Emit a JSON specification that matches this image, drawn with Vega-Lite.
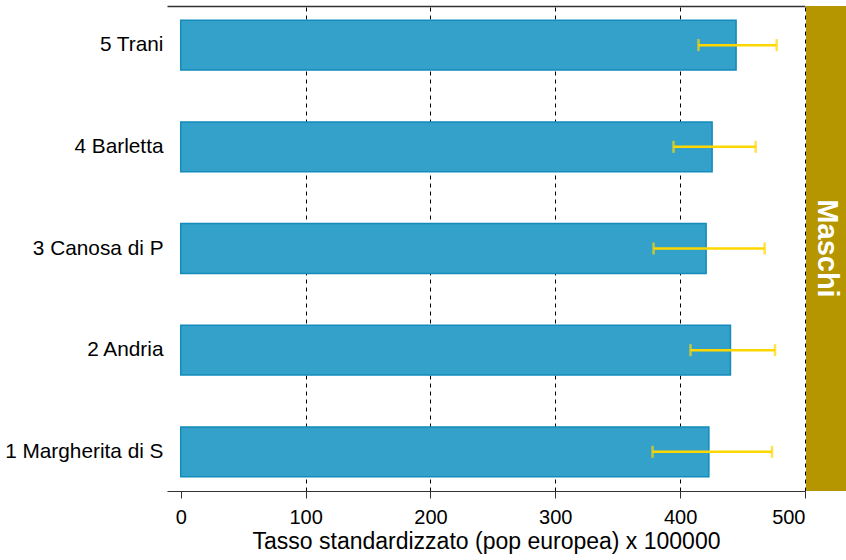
{
  "$schema": "https://vega.github.io/schema/vega-lite/v6.json",
  "padding": {"left": 4, "top": 6, "right": 0, "bottom": 5},
  "background": "white",
  "config": {
    "font": "Liberation Sans",
    "view": {"stroke": null},
    "concat": {"spacing": 0}
  },
  "datasets": {
    "rates": [
      {"comune": "5 Trani", "tasso": 444.8, "lo": 414.7, "hi": 477.3},
      {"comune": "4 Barletta", "tasso": 425.6, "lo": 394.7, "hi": 460.5},
      {"comune": "3 Canosa di P", "tasso": 420.8, "lo": 378.7, "hi": 467.7},
      {"comune": "2 Andria", "tasso": 440.3, "lo": 408.3, "hi": 476.0},
      {"comune": "1 Margherita di S", "tasso": 423.0, "lo": 377.9, "hi": 473.6}
    ],
    "strip": [{"label": "Maschi"}]
  },
  "hconcat": [
    {
      "width": 638,
      "height": 485,
      "data": {"name": "rates"},
      "encoding": {
        "y": {
          "field": "comune",
          "type": "nominal",
          "sort": null,
          "scale": {"paddingInner": 0.51, "paddingOuter": 0.14},
          "axis": {
            "title": null,
            "domain": false,
            "ticks": false,
            "labelFontSize": 20.8,
            "labelColor": "black",
            "labelPadding": 4
          }
        }
      },
      "layer": [
        {
          "mark": {"type": "bar", "fill": "#33A1C9", "stroke": "#138BBB", "strokeWidth": 1.5},
          "encoding": {
            "x": {
              "field": "tasso",
              "type": "quantitative",
              "scale": {"domain": [-11, 500], "nice": false, "zero": false},
              "axis": {
                "orient": "bottom",
                "values": [0, 100, 200, 300, 400, 500],
                "title": "Tasso standardizzato (pop europea) x 100000",
                "titleFontSize": 23,
                "titleFontWeight": "normal",
                "titleColor": "black",
                "titlePadding": 3,
                "labelFontSize": 20,
                "labelColor": "black",
                "labelPadding": 9,
                "domainColor": "#333333",
                "domainWidth": 1.2,
                "tickColor": "#333333",
                "tickSize": 7,
                "grid": true,
                "gridColor": "black",
                "gridDash": [4, 4],
                "gridWidth": 1,
                "gridOpacity": {"condition": {"test": "datum.value === 0", "value": 0}, "value": 1}
              }
            }
          }
        },
        {
          "mark": {"type": "rule", "color": "#FFD700", "strokeWidth": 2.5},
          "encoding": {
            "x": {"field": "lo", "type": "quantitative", "axis": null},
            "x2": {"field": "hi"}
          }
        },
        {
          "mark": {"type": "tick", "color": "#FFD700", "thickness": 2.5, "size": 12},
          "encoding": {
            "x": {
              "field": "lo",
              "type": "quantitative",
              "axis": {
                "orient": "top",
                "labels": false,
                "ticks": false,
                "grid": false,
                "title": null,
                "domainColor": "#333333",
                "domainWidth": 1.5
              }
            }
          }
        },
        {
          "mark": {"type": "tick", "color": "#FFD700", "thickness": 2.5, "size": 12},
          "encoding": {"x": {"field": "hi", "type": "quantitative", "axis": null}}
        }
      ]
    },
    {
      "width": 41,
      "height": 485,
      "view": {"fill": "#B59500", "stroke": null},
      "data": {"name": "strip"},
      "mark": {"type": "text", "angle": 90, "color": "white", "fontSize": 29, "fontWeight": "bold", "font": "Liberation Sans", "align": "center", "baseline": "middle"},
      "encoding": {"text": {"field": "label"}}
    }
  ]
}
